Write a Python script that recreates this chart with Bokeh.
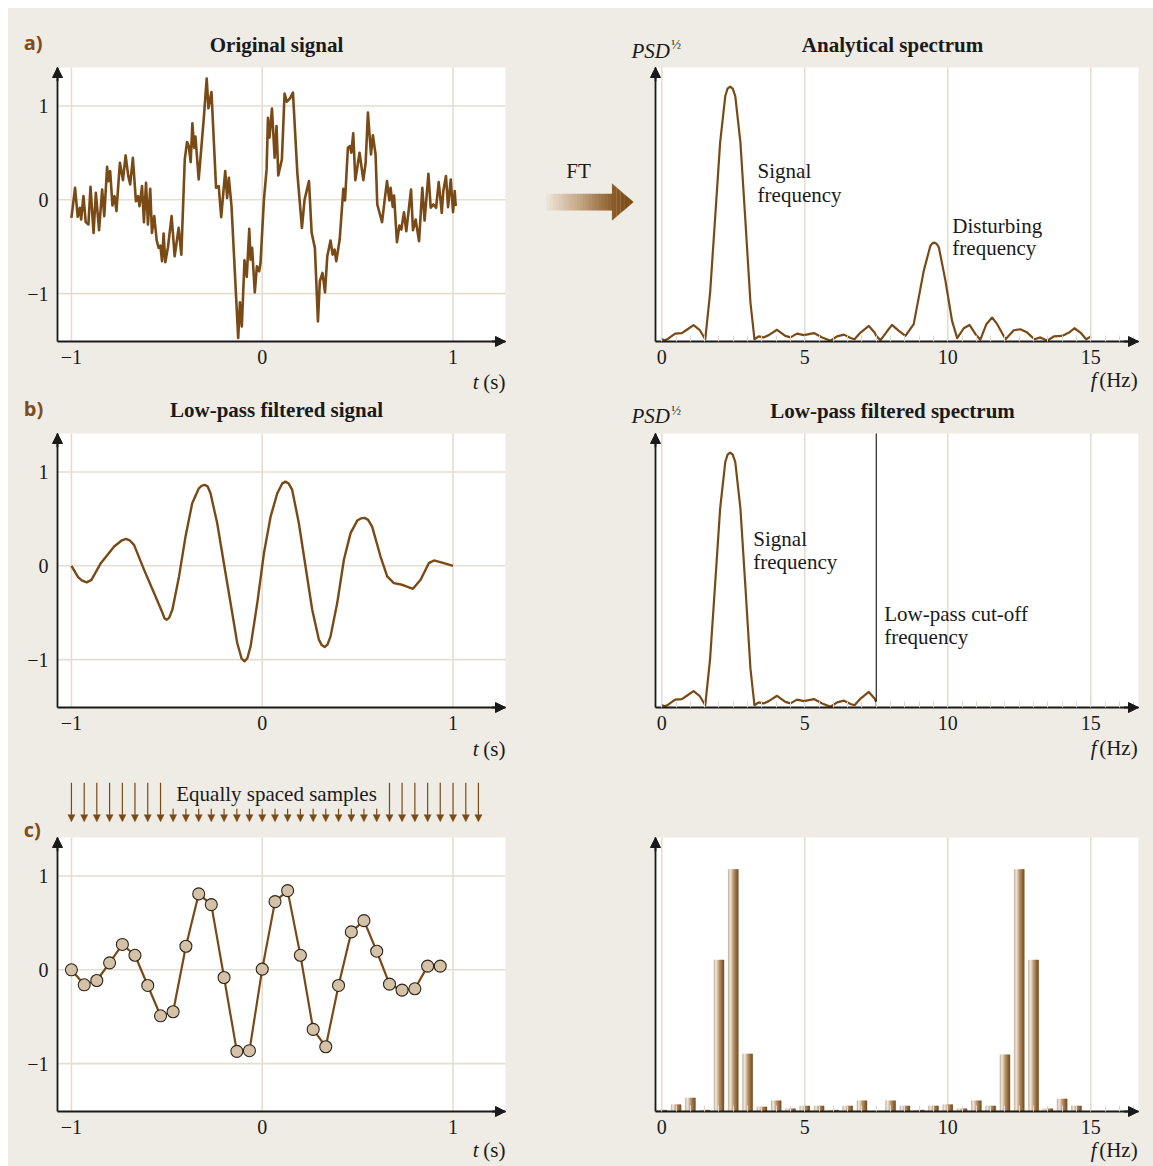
from bokeh.plotting import figure
from bokeh.layouts import row, column
from bokeh.models import (FixedTicker, Label, Arrow, NormalHead, BoxAnnotation,
                          PolyAnnotation, ColumnDataSource, Range1d)
from bokeh.transform import dodge
from bokeh.embed import file_html
from bokeh.resources import INLINE

# ---------------- data ----------------
# a) original (noisy) signal
orig_t = [-1.000, -0.981, -0.967, -0.956, -0.949, -0.937, -0.925, -0.911, -0.900, -0.884,
          -0.872, -0.855, -0.839, -0.828, -0.813, -0.806, -0.797, -0.785, -0.774, -0.764,
          -0.746, -0.730, -0.716, -0.702, -0.692, -0.678, -0.662, -0.651, -0.643, -0.630,
          -0.620, -0.609, -0.599, -0.587, -0.578, -0.566, -0.553, -0.543, -0.534, -0.525,
          -0.517, -0.508, -0.494, -0.475, -0.459, -0.438, -0.424, -0.406, -0.394, -0.385,
          -0.375, -0.366, -0.357, -0.350, -0.333, -0.306, -0.291, -0.282, -0.266, -0.242,
          -0.228, -0.215, -0.194, -0.184, -0.175, -0.161, -0.126, -0.117, -0.107, -0.093,
          -0.081, -0.068, -0.061, -0.053, -0.039, -0.028, -0.016, -0.009,
          0.009, 0.023, 0.030, 0.038, 0.051, 0.065, 0.075, 0.084, 0.103, 0.117,
          0.129, 0.145, 0.161, 0.184, 0.208, 0.222, 0.245, 0.259, 0.276, 0.292,
          0.302, 0.316, 0.329, 0.341, 0.358, 0.369, 0.379, 0.388, 0.406, 0.425,
          0.434, 0.449, 0.460, 0.467, 0.477, 0.488, 0.510, 0.530, 0.542, 0.554,
          0.570, 0.580, 0.594, 0.603, 0.628, 0.642, 0.654, 0.666, 0.673, 0.684,
          0.691, 0.706, 0.719, 0.729, 0.743, 0.755, 0.780, 0.790, 0.804, 0.822,
          0.839, 0.851, 0.871, 0.883, 0.897, 0.911, 0.925, 0.941, 0.949, 0.963,
          0.974, 0.988, 1.000, 1.009, 1.014]
orig_v = [-0.192, 0.128, -0.181, -0.085, -0.210, 0.039, -0.238, -0.263, 0.139, -0.352,
          0.075, -0.324, 0.110, -0.174, 0.352, 0.199, 0.306, -0.060, 0.039, -0.121,
          0.395, 0.210, 0.473, 0.253, 0.164, 0.448, -0.014, 0.039, -0.068, 0.146,
          -0.238, 0.181, -0.263, 0.117, -0.352, -0.174, -0.434, -0.512, -0.488, -0.655,
          -0.359, -0.665, -0.505, -0.174, -0.601, -0.299, -0.584, 0.431, 0.616, 0.573,
          0.402, 0.815, 0.555, 0.673, 0.217, 0.875, 1.292, 0.975, 1.149, 0.128,
          0.146, -0.185, 0.306, 0.021, 0.235, -0.068, -1.473, -1.093, -1.349, -0.644,
          -0.822, -0.310, -0.637, -0.512, -0.986, -0.708, -0.762, -0.673,
          0.004, 0.324, 0.875, 0.662, 0.972, 0.448, 0.786, 0.260, 0.431, 1.132,
          1.046, 1.078, 1.142, 0.288, -0.299, 0.004, 0.199, -0.352, -0.512, -1.295,
          -0.868, -0.779, -0.986, -0.601, -0.434, -0.584, -0.530, -0.655, -0.423, 0.117,
          -0.007, 0.555, 0.573, 0.502, 0.708, 0.210, 0.502, 0.210, 0.395, 0.929,
          0.484, 0.687, 0.484, -0.050, -0.238, 0.004, 0.199, -0.007, 0.128, -0.075,
          0.046, -0.452, -0.274, -0.317, -0.132, -0.335, 0.110, -0.324, -0.210, -0.441,
          0.128, -0.221, 0.278, -0.085, -0.050, -0.085, 0.189, -0.139, 0.093, 0.253,
          -0.078, 0.217, -0.132, 0.093, -0.068]

# b) low-pass filtered signal
filt_t = [-1.0, -0.965, -0.946, -0.92, -0.895, -0.846, -0.776, -0.735, -0.714, -0.695,
          -0.672, -0.619, -0.567, -0.523, -0.512, -0.5, -0.488, -0.471, -0.436, -0.402,
          -0.367, -0.332, -0.318, -0.301, -0.286, -0.271, -0.236, -0.201, -0.166, -0.131,
          -0.108, -0.093, -0.078, -0.061, -0.026, 0.009, 0.044, 0.079, 0.105, 0.122,
          0.138, 0.157, 0.192, 0.227, 0.262, 0.297, 0.312, 0.327, 0.342, 0.358,
          0.393, 0.428, 0.463, 0.498, 0.517, 0.536, 0.555, 0.576, 0.62, 0.655,
          0.69, 0.734, 0.79, 0.83, 0.873, 0.9, 0.952, 1.0]
filt_v = [0.0, -0.12, -0.155, -0.177, -0.15, 0.028, 0.206, 0.272, 0.287, 0.272,
          0.223, -0.043, -0.29, -0.5, -0.56, -0.574, -0.555, -0.468, -0.113, 0.312,
          0.667, 0.826, 0.852, 0.862, 0.845, 0.773, 0.454, 0.028, -0.397, -0.823,
          -0.99, -1.018, -0.985, -0.858, -0.397, 0.135, 0.525, 0.773, 0.878, 0.897,
          0.878, 0.809, 0.454, -0.007, -0.468, -0.787, -0.845, -0.865, -0.84, -0.752,
          -0.397, 0.064, 0.348, 0.482, 0.505, 0.511, 0.49, 0.418, 0.099, -0.113,
          -0.184, -0.202, -0.245, -0.149, 0.028, 0.057, 0.028, 0.0]

# analytical spectrum (PSD^1/2, normalised to the signal peak)
spec_f = [0.0, 0.117, 0.234, 0.467, 0.701, 0.876, 1.11, 1.32, 1.52, 1.69,
          1.87, 2.04, 2.22, 2.30, 2.39, 2.48, 2.57, 2.75, 2.92, 3.10,
          3.24, 3.39, 3.56, 3.74, 4.03, 4.32, 4.50, 4.73, 4.97, 5.32,
          5.61, 5.90, 6.13, 6.37, 6.60, 6.74, 6.95, 7.24, 7.44, 7.50,
          7.65, 7.89, 8.05, 8.29, 8.52, 8.81, 9.16, 9.39, 9.46, 9.54,
          9.62, 9.69, 9.92, 10.15, 10.33, 10.56, 10.76, 10.97, 11.14, 11.35,
          11.55, 11.73, 12.02, 12.31, 12.54, 12.78, 13.03, 13.24, 13.48, 13.71,
          14.00, 14.24, 14.43, 14.64, 14.84, 15.01]
spec_a = [0.009, 0.005, 0.012, 0.031, 0.033, 0.046, 0.064, 0.046, 0.009, 0.192,
          0.493, 0.780, 0.963, 0.992, 1.0, 0.992, 0.963, 0.780, 0.480, 0.153,
          0.009, 0.020, 0.016, 0.025, 0.046, 0.022, 0.016, 0.031, 0.025, 0.033,
          0.016, 0.003, 0.020, 0.027, 0.014, 0.009, 0.035, 0.061, 0.035, 0.022,
          0.005, 0.042, 0.065, 0.042, 0.022, 0.068, 0.277, 0.375, 0.385, 0.388,
          0.382, 0.369, 0.238, 0.081, 0.013, 0.052, 0.065, 0.029, 0.007, 0.068,
          0.094, 0.068, 0.009, 0.044, 0.048, 0.035, 0.009, 0.016, 0.003, 0.020,
          0.022, 0.035, 0.052, 0.035, 0.009, 0.020]
cutoff_f = 7.5

# c) equally spaced samples
sample_t = [-1.000, -0.933, -0.867, -0.800, -0.733, -0.667, -0.600, -0.533, -0.467, -0.400,
            -0.333, -0.267, -0.200, -0.133, -0.067, 0.000, 0.067, 0.133, 0.200, 0.267,
            0.333, 0.400, 0.467, 0.533, 0.600, 0.667, 0.733, 0.800, 0.867, 0.933]
sample_v = [0.0, -0.16, -0.114, 0.074, 0.27, 0.155, -0.167, -0.49, -0.447, 0.251,
            0.809, 0.695, -0.082, -0.869, -0.862, 0.007, 0.727, 0.844, 0.155, -0.635,
            -0.82, -0.167, 0.404, 0.524, 0.198, -0.153, -0.217, -0.202, 0.039, 0.039]
arrow_t = [-1.000, -0.933, -0.867, -0.800, -0.733, -0.667, -0.600, -0.533, -0.467, -0.400,
           -0.333, -0.267, -0.200, -0.133, -0.067, 0.000, 0.067, 0.133, 0.200, 0.267,
           0.333, 0.400, 0.467, 0.533, 0.600, 0.667, 0.733, 0.800, 0.867, 0.933,
           1.000, 1.067, 1.133]
arrow_long = [True] * 8 + [False] * 17 + [True] * 8

# discrete spectrum
bar_f = [0.0, 0.5, 1.0, 1.5, 2.0, 2.5, 3.0, 3.5, 4.0, 4.5, 5.0, 5.5, 6.0, 6.5, 7.0,
         7.5, 8.0, 8.5, 9.0, 9.5, 10.0, 10.5, 11.0, 11.5, 12.0, 12.5, 13.0, 13.5, 14.0, 14.5]
bar_a = [0.006, 0.028, 0.056, 0.006, 0.626, 1.0, 0.238, 0.019, 0.044, 0.011,
         0.023, 0.023, 0.006, 0.023, 0.044, 0.0, 0.044, 0.023, 0.006, 0.023,
         0.028, 0.011, 0.044, 0.023, 0.234, 1.0, 0.626, 0.011, 0.052, 0.023]

time_ticks = [-1, 0, 1]
value_ticks = [-1, 0, 1]
freq_ticks = [0, 5, 10, 15]
freq_minor = [0.0, 0.5, 1.0, 1.5, 2.0, 2.5, 3.0, 3.5, 4.0, 4.5, 5.0, 5.5, 6.0, 6.5, 7.0, 7.5,
              8.0, 8.5, 9.0, 9.5, 10.0, 10.5, 11.0, 11.5, 12.0, 12.5, 13.0, 13.5, 14.0, 14.5,
              15.0, 15.5, 16.0, 16.5]

# ---------------- style ----------------
BG = "#efebe5"
BROWN = "#7a4a16"
GRID = "#e6ddd2"
INK = "#1a1a1a"
SERIF = "Liberation Serif"
SANS = "Open Sans"
LABEL_BROWN = "#7e4d19"

TX = (-1.073, 1.275)     # time-panel plot box (data units)
VY = (-1.51, 1.41)
FX = (-0.22, 16.67)      # frequency-panel plot box
AY = (0.0, 1.075)
BY = (0.0, 1.132)


def hexmix(c1, c2, t):
    a = [int(c1[i:i + 2], 16) for i in (1, 3, 5)]
    b = [int(c2[i:i + 2], 16) for i in (1, 3, 5)]
    return "#" + "".join("%02x" % round(a[k] + (b[k] - a[k]) * t) for k in range(3))


def gradient(stops, n):
    out = []
    for j in range(n):
        u = (j + 0.5) / n
        for (p0, c0), (p1, c1) in zip(stops[:-1], stops[1:]):
            if p0 <= u <= p1:
                out.append(hexmix(c0, c1, (u - p0) / (p1 - p0)))
                break
    return out


def make_fig(w, h, bx, by, px, py):
    """Figure whose frame fills the canvas; the plot box bx x by (data) sits at
    pixel columns px=(left,right) and rows py=(top,bottom) of the canvas."""
    sx = (px[1] - px[0]) / (bx[1] - bx[0])
    sy = (py[1] - py[0]) / (by[1] - by[0])
    x0 = bx[0] - px[0] / sx
    y1 = by[1] + py[0] / sy
    p = figure(width=w, height=h, x_range=Range1d(x0, x0 + w / sx),
               y_range=Range1d(y1 - h / sy, y1), title=None,
               output_backend="svg", toolbar_location=None, tools="",
               min_border=0, min_border_left=0, min_border_right=0,
               min_border_top=0, min_border_bottom=0)
    p.background_fill_color = BG
    p.border_fill_color = BG
    p.outline_line_color = None
    p.grid.visible = False
    p.add_layout(BoxAnnotation(left=bx[0], right=bx[1], bottom=by[0], top=by[1],
                               fill_color="white", fill_alpha=1.0, line_color=None,
                               level="underlay"))
    p.xaxis.fixed_location = by[0]
    p.xaxis.bounds = bx
    p.yaxis.fixed_location = bx[0]
    p.yaxis.bounds = by
    for ax in p.axis:
        ax.axis_line_color = INK
        ax.axis_line_width = 1.8
        ax.major_tick_in = 0
        ax.major_tick_out = 0
        ax.minor_tick_in = 0
        ax.minor_tick_out = 0
        ax.major_label_text_font = SERIF
        ax.major_label_text_font_size = "20px"
        ax.major_label_text_color = INK
        ax.major_label_standoff = 8
    dx = (bx[1] - bx[0]) * 0.03
    dy = (by[1] - by[0]) * 0.05
    p.add_layout(Arrow(end=NormalHead(size=10, fill_color=INK, line_color=INK, line_width=1),
                       x_start=bx[0], y_start=by[1] - dy, x_end=bx[0], y_end=by[1],
                       line_color=INK, line_width=1.8))
    p.add_layout(Arrow(end=NormalHead(size=10, fill_color=INK, line_color=INK, line_width=1),
                       x_start=bx[1] - dx, y_start=by[0], x_end=bx[1], y_end=by[0],
                       line_color=INK, line_width=1.8))
    return p


def txt(p, x, y, s, size="21px", style="normal", align="left", font=SERIF, color=INK):
    p.add_layout(Label(x=x, y=y, text=s, text_font=font, text_font_size=size,
                       text_font_style=style, text_align=align, text_baseline="middle",
                       text_color=color))


def time_fig(h, py, xlab_y):
    p = make_fig(532, h, TX, VY, (49, 497), py)
    p.xaxis.ticker = FixedTicker(ticks=time_ticks)
    p.yaxis.ticker = FixedTicker(ticks=value_ticks)
    p.xaxis.major_label_overrides = {-1: "\u22121", 0: "0", 1: "1"}
    p.yaxis.major_label_overrides = {-1: "\u22121", 0: "0", 1: "1"}
    p.yaxis.major_label_standoff = 9
    n = len(time_ticks)
    p.segment(x0=time_ticks, y0=[VY[0]] * n, x1=time_ticks, y1=[VY[1]] * n,
              line_color=GRID, line_width=1.6)
    m = len(value_ticks)
    p.segment(x0=[TX[0]] * m, y0=value_ticks, x1=[TX[1]] * m, y1=value_ticks,
              line_color=GRID, line_width=1.6)
    txt(p, 1.134, xlab_y, "t", style="italic", align="right")
    txt(p, 1.275, xlab_y, "(s)", align="right")
    return p


def freq_fig(h, by, py, xlab_y):
    p = make_fig(613, h, FX, by, (115, 598), py)
    p.xaxis.ticker = FixedTicker(ticks=freq_ticks, minor_ticks=freq_minor)
    p.xaxis.minor_tick_in = 6
    p.xaxis.minor_tick_out = 0
    p.xaxis.minor_tick_line_color = "#dcd8d2"
    p.xaxis.minor_tick_line_width = 1
    p.yaxis.ticker = FixedTicker(ticks=[])
    p.yaxis.major_label_text_font_size = "0px"
    n = len(freq_ticks)
    p.segment(x0=freq_ticks, y0=[by[0]] * n, x1=freq_ticks, y1=[by[1]] * n,
              line_color=GRID, line_width=1.6)
    txt(p, 15.2, xlab_y, "f", style="italic", align="right")
    txt(p, 16.64, xlab_y, "(Hz)", align="right")
    return p


def psd_label(p, y):
    txt(p, -1.06, y, "PSD", style="italic")
    txt(p, 0.33, y + 0.025, "\u00bd", size="13px")


# ---------------- row a (page y 8..394) ----------------
pA = time_fig(386, (59, 333), -1.944)
pA.line(orig_t, orig_v, line_color=BROWN, line_width=2.6, line_join="round")
txt(pA, 0.075, 1.652, "Original signal", style="bold", align="center")
txt(pA, -1.25, 1.68, "a)", size="20px", style="bold", font=SANS, color=LABEL_BROWN)

pB = freq_fig(386, AY, (59, 333), -0.153)
pB.line(spec_f, spec_a, line_color=BROWN, line_width=2.2, line_join="round")
txt(pB, 8.07, 1.165, "Analytical spectrum", style="bold", align="center")
psd_label(pB, 1.141)
txt(pB, 3.35, 0.667, "Signal")
txt(pB, 3.35, 0.573, "frequency")
txt(pB, 10.16, 0.455, "Disturbing")
txt(pB, 10.16, 0.365, "frequency")
# FT arrow (gradient)
txt(pB, -2.91, 0.667, "FT", align="center")
n_sh = 22
sh_cols = gradient([(0, "#ede4d8"), (0.5, "#c4a684"), (1.0, "#8a5a26")], n_sh)
x0, x1 = -4.03, -1.70
for j, c in enumerate(sh_cols):
    pB.add_layout(BoxAnnotation(left=x0 + (x1 - x0) * j / n_sh,
                                right=x0 + (x1 - x0) * (j + 1) / n_sh + 0.01,
                                bottom=0.514, top=0.580, fill_color=c, fill_alpha=1.0,
                                line_color=None))
hx0, hx1, htop, hbot, hmid = -1.74, -0.99, 0.620, 0.475, 0.547
n_hd = 5
hd_cols = gradient([(0, "#8f5f2b"), (1.0, "#76460f")], n_hd)
for j, c in enumerate(hd_cols):
    u0, u1 = j / n_hd, (j + 1) / n_hd
    xa, xb = hx0 + (hx1 - hx0) * u0, hx0 + (hx1 - hx0) * u1
    pB.add_layout(PolyAnnotation(xs=[xa, xb, xb, xa],
                                 ys=[htop + (hmid - htop) * u0, htop + (hmid - htop) * u1,
                                     hbot + (hmid - hbot) * u1, hbot + (hmid - hbot) * u0],
                                 fill_color=c, fill_alpha=1.0, line_color=c, line_width=0.5))

# ---------------- row b (page y 394..768) ----------------
pC = time_fig(374, (39, 313), -1.957)
pC.line(filt_t, filt_v, line_color=BROWN, line_width=2.4, line_join="round")
txt(pC, 0.075, 1.66, "Low-pass filtered signal", style="bold", align="center")
txt(pC, -1.25, 1.68, "b)", size="20px", style="bold", font=SANS, color=LABEL_BROWN)

pD = freq_fig(374, AY, (39, 313), -0.157)
lp_f = [f for f in spec_f if f <= cutoff_f]
lp_a = [a for f, a in zip(spec_f, spec_a) if f <= cutoff_f]
pD.line(lp_f, lp_a, line_color=BROWN, line_width=2.2, line_join="round")
pD.segment(x0=[cutoff_f], y0=[AY[0]], x1=[cutoff_f], y1=[AY[1]], line_color="#111111",
           line_width=1.1)
txt(pD, 8.07, 1.163, "Low-pass filtered spectrum", style="bold", align="center")
psd_label(pD, 1.142)
txt(pD, 3.2, 0.663, "Signal")
txt(pD, 3.2, 0.569, "frequency")
txt(pD, 7.78, 0.365, "Low-pass cut-off")
txt(pD, 7.78, 0.275, "frequency")

# ---------------- row c (page y 768..1166) ----------------
pE = time_fig(398, (69, 343), -1.922)
pE.line(sample_t, sample_v, line_color=BROWN, line_width=2.2)
pE.scatter(sample_t, sample_v, size=12, fill_color="#d4c2a8", line_color="#2e2317",
           line_width=1.1)
txt(pE, 0.075, 1.876, "Equally spaced samples", align="center")
txt(pE, -1.25, 1.50, "c)", size="20px", style="bold", font=SANS, color=LABEL_BROWN)
arr_src = ColumnDataSource(dict(
    xs=arrow_t, xe=arrow_t,
    ys=[1.993 if lg else 1.716 for lg in arrow_long],
    ye=[1.578] * len(arrow_t)))
pE.add_layout(Arrow(end=NormalHead(size=7, fill_color=BROWN, line_color=BROWN, line_width=0.5),
                    x_start="xs", y_start="ys", x_end="xe", y_end="ye", source=arr_src,
                    line_color=BROWN, line_width=1.2))

pF = freq_fig(398, BY, (69, 343), -0.161)
bar_src = ColumnDataSource(dict(f=bar_f, a=bar_a))
BW = 0.35
n_st = 12
bar_cols = gradient([(0, "#b89e80"), (0.22, "#f3ece3"), (0.55, "#b48e66"), (1.0, "#6f400c")], n_st)
for j, c in enumerate(bar_cols):
    off = -BW / 2 + BW * (j + 0.5) / n_st
    pF.vbar(x=dodge("f", off, range=pF.x_range), top="a", bottom=0, width=BW / n_st,
            source=bar_src, fill_color=c, line_color=c, line_width=0.4)

layout = column(row(pA, pB, spacing=0), row(pC, pD, spacing=0), row(pE, pF, spacing=0),
                spacing=0, margin=(8, 0, 0, 8), styles={"background-color": BG})
open("out.html", "w").write(file_html(layout, INLINE))
